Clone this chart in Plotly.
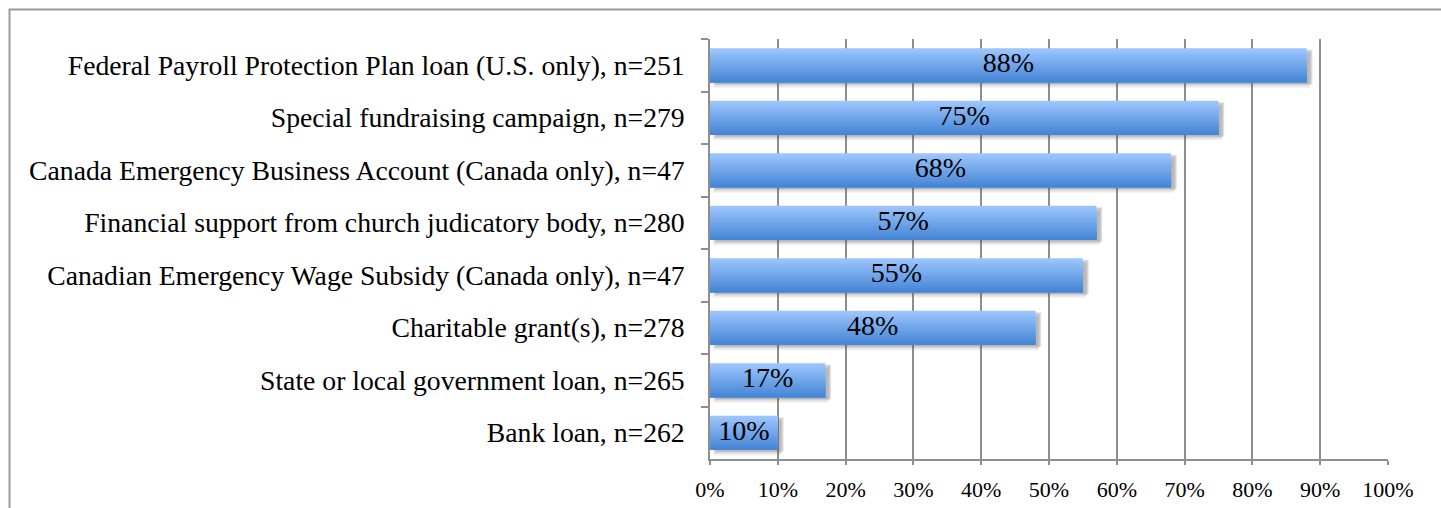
import plotly.graph_objects as go

# Survey items, top to bottom, with share of respondents who received each
categories = [
    "Federal Payroll Protection Plan loan (U.S. only), n=251",
    "Special fundraising campaign, n=279",
    "Canada Emergency Business Account (Canada only), n=47",
    "Financial support from church judicatory body, n=280",
    "Canadian Emergency Wage Subsidy (Canada only), n=47",
    "Charitable grant(s), n=278",
    "State or local government loan, n=265",
    "Bank loan, n=262",
]
values = [88, 75, 68, 57, 55, 48, 17, 10]
tick_vals = [0, 10, 20, 30, 40, 50, 60, 70, 80, 90, 100]
tick_text = [f"{v}%" for v in tick_vals]

FONT = "Liberation Serif"
GRID = "#8e8e8e"
W, H = 1441, 508
ML, MR, MT, MB = 710, 53, 39, 49

BAR_W = 0.65
N_STRIPS = 16
TOP = (156, 197, 253)
BOT = (70, 134, 214)

fig = go.Figure()

# soft drop shadow under each bar
for k, (dy, op) in enumerate([(0.11, 0.07), (0.08, 0.11), (0.05, 0.15), (0.03, 0.18)]):
    fig.add_trace(go.Bar(
        y=categories, x=values, base=[0.4 + 0.15 * k] * len(values),
        orientation="h", width=BAR_W, offset=-BAR_W / 2 + dy,
        marker=dict(color=f"rgba(90,90,90,{op})", line=dict(width=0)),
        hoverinfo="skip", showlegend=False,
    ))

# vertical gradient fill: light on top, darker at the bottom;
# each layer runs to the bar's lower edge so no seams show
sw = BAR_W / N_STRIPS
for i in range(N_STRIPS):
    t = i / (N_STRIPS - 1)
    c = tuple(round(TOP[j] + (BOT[j] - TOP[j]) * t) for j in range(3))
    fig.add_trace(go.Bar(
        y=categories, x=values, orientation="h",
        width=BAR_W - i * sw, offset=-BAR_W / 2 + i * sw,
        marker=dict(color=f"rgb{c}", line=dict(width=0)),
        hoverinfo="skip", showlegend=False,
    ))

# value labels centred on each bar
fig.add_trace(go.Scatter(
    y=categories, x=[v / 2 for v in values], mode="text",
    text=[f"{v}%" for v in values],
    textfont=dict(family=FONT, size=28, color="black"),
    hoverinfo="skip", showlegend=False,
))

# outer frame (top and left edges visible)
x0 = (9.5 - ML) / (W - ML - MR)
x1 = (W + 5 - ML) / (W - ML - MR)
y1 = (H - MB - 9.5) / (H - MT - MB)
y0 = (H - MB - H - 5) / (H - MT - MB)
fig.add_shape(type="rect", xref="paper", yref="paper",
              x0=x0, x1=x1, y0=y0, y1=y1,
              line=dict(color="#9a9a9a", width=2), layer="below")

fig.update_layout(
    width=W, height=H,
    margin=dict(l=ML, r=MR, t=MT, b=MB, pad=0, autoexpand=False),
    barmode="overlay",
    plot_bgcolor="white", paper_bgcolor="white",
    font=dict(family=FONT, color="black"),
    xaxis=dict(
        range=[0, 100], tickvals=tick_vals, ticktext=tick_text,
        showgrid=True, gridcolor=GRID, gridwidth=1.5,
        showline=True, linecolor=GRID, linewidth=1.5,
        ticks="outside", ticklen=4, tickcolor=GRID, tickwidth=1.5,
        tickfont=dict(family=FONT, size=22), zeroline=False,
        ticklabelstandoff=6, fixedrange=True, automargin=False,
    ),
    yaxis=dict(
        autorange="reversed", type="category",
        showline=True, linecolor=GRID, linewidth=1.5,
        ticks="outside", ticklen=7, tickcolor=GRID, tickwidth=1.5,
        tickson="boundaries", showgrid=False,
        tickfont=dict(family=FONT, size=27.7),
        ticklabelstandoff=18, automargin=False,
    ),
)

fig.write_html("out.html")
